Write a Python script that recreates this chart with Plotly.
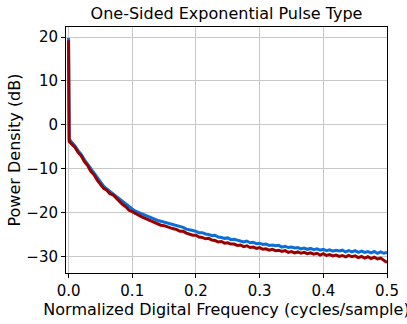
import plotly.graph_objects as go

# normalized frequency (cycles/sample)
freq = [
    0.0, 0.001, 0.005, 0.010, 0.015, 0.020, 0.025, 0.030, 0.035, 0.040,
    0.045, 0.050, 0.055, 0.060, 0.065, 0.070, 0.075, 0.080, 0.085, 0.090,
    0.095, 0.100, 0.105, 0.110, 0.115, 0.120, 0.125, 0.130, 0.135, 0.140,
    0.145, 0.150, 0.155, 0.160, 0.165, 0.170, 0.175, 0.180, 0.185, 0.190,
    0.195, 0.200, 0.205, 0.210, 0.215, 0.220, 0.225, 0.230, 0.235, 0.240,
    0.245, 0.250, 0.255, 0.260, 0.265, 0.270, 0.275, 0.280, 0.285, 0.290,
    0.295, 0.300, 0.305, 0.310, 0.315, 0.320, 0.325, 0.330, 0.335, 0.340,
    0.345, 0.350, 0.355, 0.360, 0.365, 0.370, 0.375, 0.380, 0.385, 0.390,
    0.395, 0.400, 0.405, 0.410, 0.415, 0.420, 0.425, 0.430, 0.435, 0.440,
    0.445, 0.450, 0.455, 0.460, 0.465, 0.470, 0.475, 0.480, 0.485, 0.490,
    0.495, 0.500,
]

# estimated spectrum (dB)
psd_blue = [
    19.8, -3.2, -4.0, -4.8, -5.9, -6.8, -8.0, -9.0, -10.2, -11.1,
    -12.2, -13.1, -14.0, -14.6, -15.2, -15.7, -16.3, -17.0, -17.6, -18.2,
    -18.8, -19.2, -19.7, -20.0, -20.3, -20.6, -21.0, -21.2, -21.5, -21.8,
    -22.0, -22.2, -22.5, -22.6, -22.8, -23.1, -23.3, -23.4, -23.8, -23.9,
    -24.1, -24.3, -24.6, -24.6, -24.9, -25.0, -25.3, -25.2, -25.6, -25.7,
    -25.9, -25.8, -26.2, -26.1, -26.3, -26.4, -26.7, -26.5, -26.9, -26.8,
    -27.1, -27.0, -27.3, -27.2, -27.5, -27.4, -27.6, -27.5, -27.9, -27.7,
    -28.0, -27.9, -28.1, -28.0, -28.3, -28.1, -28.4, -28.2, -28.5, -28.3,
    -28.6, -28.4, -28.7, -28.5, -28.8, -28.6, -28.8, -28.6, -29.0, -28.7,
    -29.0, -28.7, -29.1, -28.8, -29.1, -28.9, -29.2, -28.9, -29.3, -29.0,
    -29.3, -29.1,
]

psd_red = [
    19.3, -3.8, -4.4, -5.1, -6.3, -7.1, -8.4, -9.3, -10.6, -11.4,
    -12.6, -13.5, -14.5, -14.9, -15.7, -16.0, -16.8, -17.5, -18.2, -18.7,
    -19.5, -19.8, -20.3, -20.6, -21.0, -21.3, -21.7, -21.9, -22.3, -22.5,
    -22.9, -23.0, -23.3, -23.5, -23.7, -23.9, -24.3, -24.3, -24.7, -24.9,
    -25.2, -25.2, -25.6, -25.7, -26.0, -25.9, -26.3, -26.4, -26.7, -26.6,
    -27.0, -26.9, -27.2, -27.2, -27.5, -27.4, -27.8, -27.6, -28.0, -27.9,
    -28.2, -28.0, -28.4, -28.3, -28.6, -28.4, -28.7, -28.6, -28.9, -28.7,
    -29.1, -28.9, -29.2, -29.0, -29.3, -29.1, -29.4, -29.2, -29.5, -29.3,
    -29.7, -29.4, -29.8, -29.6, -29.9, -29.7, -30.0, -29.8, -30.1, -29.8,
    -30.1, -29.9, -30.3, -30.0, -30.4, -30.1, -30.5, -30.2, -30.6, -30.4,
    -30.9, -31.4,
]

x_ticks = [0.0, 0.1, 0.2, 0.3, 0.4, 0.5]
y_ticks = [-30, -20, -10, 0, 10, 20]

fig = go.Figure()
fig.add_trace(go.Scatter(x=freq, y=psd_blue, mode="lines",
                         line=dict(color="#0b6fd8", width=3), showlegend=False))
fig.add_trace(go.Scatter(x=freq, y=psd_red, mode="lines",
                         line=dict(color="#990000", width=3), showlegend=False))

axis_style = dict(
    showgrid=True, gridcolor="#c8c8c8", gridwidth=1,
    showline=True, linecolor="black", linewidth=1, mirror=True,
    ticks="outside", ticklen=4, tickcolor="black",
    zeroline=False, automargin=False,
    tickfont=dict(size=15, color="black"),
)

fig.update_layout(
    template="none",
    width=407, height=324,
    paper_bgcolor="white", plot_bgcolor="white",
    font=dict(family="DejaVu Sans", color="black"),
    title=dict(text="One-Sided Exponential Pulse Type", font=dict(size=16),
               x=0.5, xref="paper", y=1 - 13 / 324, yref="container",
               xanchor="center", yanchor="middle"),
    xaxis=dict(range=[-0.004, 0.5], tickvals=x_ticks,
               ticktext=[f"{v:.1f}" for v in x_ticks],
               title=dict(text="Normalized Digital Frequency (cycles/sample)",
                          font=dict(size=16), standoff=2),
               **axis_style),
    yaxis=dict(range=[-33.8, 22.3], tickvals=y_ticks,
               ticktext=[str(v).replace("-", "\u2212") for v in y_ticks],
               title=dict(text="Power Density (dB)", font=dict(size=16), standoff=1),
               **axis_style),
    margin=dict(l=66, r=20, t=27, b=51),
)

# drop the page's default body margin so the figure sits at the window corner
fig.write_html("out.html", config={"displayModeBar": False},
               post_script="document.body.style.margin = '0';")
